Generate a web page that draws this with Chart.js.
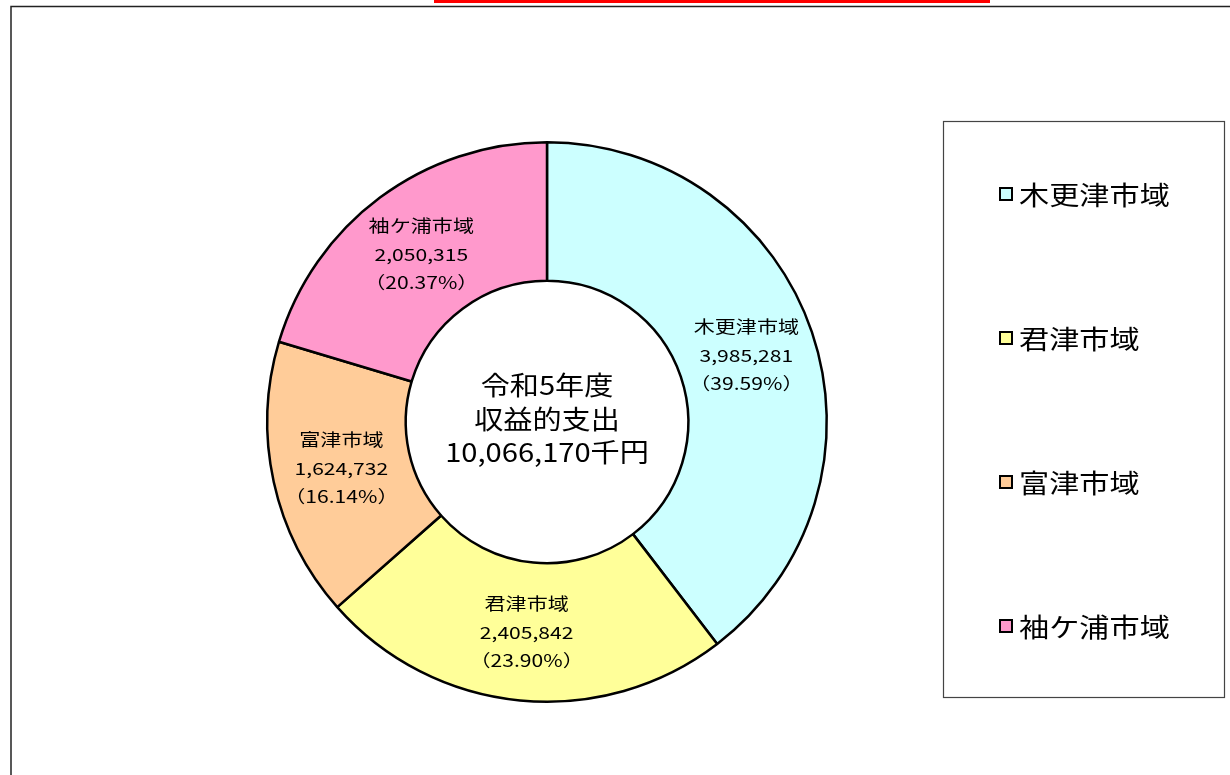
<!DOCTYPE html>
<html>
<head>
<meta charset="utf-8">
<script src="https://cdn.jsdelivr.net/npm/chart.js@4.4.1/dist/chart.umd.min.js"></script>
<style>
html,body{margin:0;padding:0;background:#fff;}
#wrap{position:relative;width:1230px;height:775px;}
</style>
</head>
<body>
<div id="wrap"><canvas id="c" width="1230" height="775"></canvas></div>
<script>
const categories = ['木更津市域', '君津市域', '富津市域', '袖ケ浦市域'];
const values = [3985281, 2405842, 1624732, 2050315];
const colors = ['#CCFFFF', '#FFFF99', '#FFCC99', '#FF99CC'];
const centerLines = ['令和5年度', '収益的支出', '10,066,170千円'];

const FONT = '"Noto Sans CJK JP", "Noto Sans", sans-serif';

function stretchText(ctx, text, x, y, sx, align) {
  ctx.save();
  ctx.translate(x, y);
  ctx.scale(sx, 1);
  ctx.textAlign = align || 'center';
  ctx.fillText(text, 0, 0);
  ctx.restore();
}

const decor = {
  id: 'decor',
  beforeDraw(chart) {
    const ctx = chart.ctx;
    ctx.save();
    ctx.fillStyle = '#fff';
    ctx.fillRect(0, 0, chart.width, chart.height);
    ctx.fillStyle = '#ff0000';
    ctx.fillRect(434, 0, 556, 3);
    ctx.strokeStyle = '#222';
    ctx.lineWidth = 1.5;
    ctx.beginPath();
    ctx.moveTo(11, 775);
    ctx.lineTo(11, 6.5);
    ctx.lineTo(1230, 6.5);
    ctx.stroke();
    ctx.restore();
  },
  afterDraw(chart) {
    const ctx = chart.ctx;
    const meta = chart.getDatasetMeta(0);
    const total = values.reduce((a, b) => a + b, 0);
    ctx.save();
    ctx.fillStyle = '#000';
    ctx.textBaseline = 'middle';
    ctx.font = '17px ' + FONT;
    meta.data.forEach((arc, i) => {
      const p = arc.getCenterPoint();
      const lines = [
        categories[i],
        values[i].toLocaleString('en-US'),
        '（' + (values[i] / total * 100).toFixed(2) + '%）'
      ];
      const lh = 28.5;
      lines.forEach((t, k) => {
        stretchText(ctx, t, p.x, p.y + (k - 1) * lh + 1, 1.24, 'center');
      });
    });
    const cx = meta.data[0].x, cy = meta.data[0].y;
    ctx.font = '26px ' + FONT;
    centerLines.forEach((t, k) => {
      stretchText(ctx, t, cx, cy + (k - 1) * 33.5 - 3, 1.12, 'center');
    });
    ctx.strokeStyle = '#444';
    ctx.lineWidth = 1.2;
    ctx.strokeRect(943.5, 121.5, 281, 576);
    ctx.font = '26px ' + FONT;
    categories.forEach((t, i) => {
      const y = 194 + i * 144;
      ctx.fillStyle = colors[i];
      ctx.fillRect(1000, y - 6, 12, 12);
      ctx.strokeStyle = '#000';
      ctx.lineWidth = 2;
      ctx.strokeRect(1000, y - 6, 12, 12);
      ctx.fillStyle = '#000';
      stretchText(ctx, t, 1019, y + 1, 1.16, 'left');
    });
    ctx.restore();
  }
};

new Chart(document.getElementById('c'), {
  type: 'doughnut',
  data: {
    labels: categories,
    datasets: [{
      data: values,
      backgroundColor: colors,
      borderColor: '#000',
      borderWidth: 2.5,
      borderAlign: 'center'
    }]
  },
  options: {
    responsive: false,
    animation: false,
    cutout: '50.5%',
    layout: { padding: { left: 266, right: 402, top: 141, bottom: 72 } },
    plugins: {
      legend: { display: false },
      tooltip: { enabled: false }
    },
    events: []
  },
  plugins: [decor]
});
</script>
</body>
</html>
